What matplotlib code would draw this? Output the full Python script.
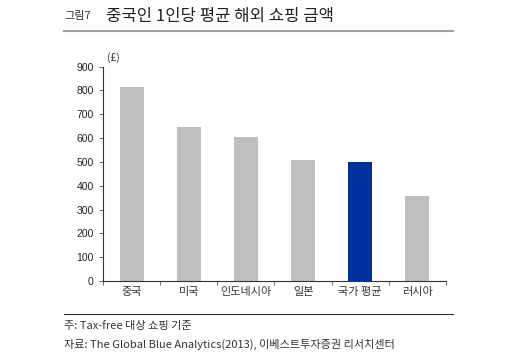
import matplotlib
matplotlib.use("Agg")
import matplotlib.pyplot as plt
from matplotlib.lines import Line2D
import numpy as np

plt.rcParams['font.family'] = ['Noto Sans CJK KR', 'DejaVu Sans']

categories = ['중국', '미국', '인도네시아', '일본', '국가 평균', '러시아']
values = [815, 645, 605, 508, 500, 355]
colors = ['#BFBFBF', '#BFBFBF', '#BFBFBF', '#BFBFBF', '#00309C', '#BFBFBF']
yticks = [0, 100, 200, 300, 400, 500, 600, 700, 800, 900]

fig = plt.figure(figsize=(5.2, 3.57), dpi=100)
ax = fig.add_axes([0.1987, 0.2129, 0.6583, 0.6003])

x = np.arange(len(categories))
ax.bar(x, values, width=0.41, color=colors)
ax.set_xlim(-0.5, len(categories) - 0.5)
ax.set_ylim(0, 900)
ax.set_yticks(yticks)
ax.set_yticklabels([str(v) for v in yticks], fontsize=7.5, color='#222222', family=['Liberation Sans', 'DejaVu Sans'])
ax.set_xticks(np.arange(len(categories) + 1) - 0.5, minor=False)
ax.set_xticklabels([])
ax.set_xticks(x, minor=True)
ax.set_xticklabels(categories, minor=True, fontsize=8, color='#333333')
ax.tick_params(axis='x', which='minor', length=0, pad=4)
ax.tick_params(axis='x', which='major', length=3, width=0.6, color='#555555', direction='out')
ax.tick_params(axis='y', length=3, width=0.6, color='#555555', direction='out', pad=4)
for s in ['top', 'right']:
    ax.spines[s].set_visible(False)
for s in ['left', 'bottom']:
    ax.spines[s].set_linewidth(0.8)
    ax.spines[s].set_color('#333333')

fig.text(107 / 520, 1 - 58 / 357, '(£)', fontsize=7.5, color='#333333', va='center', ha='left')

# Title
fig.text(64 / 520, 1 - 16 / 357, '그림7', fontsize=8, color='#333333', va='center', ha='left')
fig.text(106 / 520, 1 - 16 / 357, '중국인 1인당 평균 해외 쇼핑 금액', fontsize=12, fontweight='medium', color='#222222', va='center', ha='left')
fig.add_artist(Line2D([64 / 520, 453 / 520], [1 - 31 / 357] * 2, color='#A0A0A0', lw=1.5, transform=fig.transFigure))

# Bottom notes
fig.add_artist(Line2D([64 / 520, 453 / 520], [1 - 314 / 357] * 2, color='#333333', lw=0.8, transform=fig.transFigure))
fig.text(64 / 520, 1 - 326 / 357, '주: Tax-free 대상 쇼핑 기준', fontsize=8, color='#333333', va='center', ha='left')
fig.text(64 / 520, 1 - 344 / 357, '자료: The Global Blue Analytics(2013), 이베스트투자증권 리서치센터', fontsize=8, color='#333333', va='center', ha='left')

fig.savefig('out.png', dpi=100)
